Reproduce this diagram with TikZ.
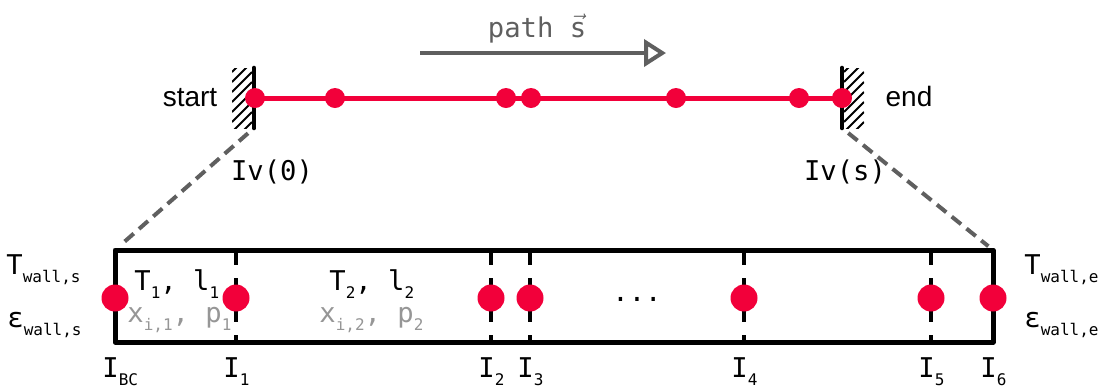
\documentclass[tikz,border=0pt]{standalone}
\usepackage{fontspec}
\newfontfamily\monof{DejaVu Sans Mono}
\newfontfamily\sansf{Liberation Sans}
\usetikzlibrary{arrows.meta}
\definecolor{dotred}{RGB}{242,0,58}
\definecolor{darkgr}{RGB}{95,95,95}
\definecolor{lightgr}{RGB}{150,150,150}
\newcommand{\sbs}[1]{\raisebox{-4pt}{\fontsize{8}{8}\selectfont #1}}

\begin{document}
\begin{tikzpicture}[x=0.5pt,y=-0.5pt] %% one unit = one pixel of the sketch
	\tikzstyle{dot}=[circle,fill=dotred,inner sep=0pt,minimum size=10pt]
	\tikzstyle{bigdot}=[circle,fill=dotred,inner sep=0pt,minimum size=13.5pt]
	\tikzstyle{txt}=[inner sep=0pt,font=\monof\fontsize{13.6}{14}\selectfont]
	\tikzstyle{wall}=[line width=2.3pt,line cap=round]
	\tikzstyle{hatch}=[line width=1pt]
	\tikzstyle{conn}=[darkgr,line width=2pt,dash pattern=on 6pt off 3.5pt]
	\tikzstyle{flow}=[darkgr,line width=2pt,-{Triangle[open,length=11pt,width=13.5pt]}]
	\tikzstyle{boxline}=[line width=2.5pt,line join=round]
	\tikzstyle{sep}=[line width=2.2pt,dash pattern=on 7.5pt off 6.5pt on 22pt off 6.5pt on 20pt]
	\useasboundingbox (0,0) rectangle (1107,387);

	% direction of the path
	\node[txt,darkgr,anchor=base] (pathlbl) at (537,37) {path $\vec{\mbox{s}}$};
	\coordinate (a0) at (420,53);
	\coordinate (a1) at (666,53);
	\draw[flow] (a0) -- (a1);

	% the path between the two walls
	\coordinate (s) at (255,98);
	\coordinate (e) at (842,98);
	\draw[dotred,line width=2.5pt] (s) -- (e);

	\coordinate (swtop) at (254,68);
	\coordinate (swbot) at (254,128);
	\coordinate (ewtop) at (842,68);
	\coordinate (ewbot) at (842,128);
	\begin{scope}
		\clip (232,68) rectangle (252,128);
		\foreach \k in {0,...,8}
			\draw[hatch] (232,72+10*\k) -- ++(20,-20);
	\end{scope}
	\begin{scope}
		\clip (844,68) rectangle (864,128);
		\foreach \k in {0,...,8}
			\draw[hatch] (844,72+10*\k) -- ++(20,-20);
	\end{scope}
	\draw[wall] (swtop) -- (swbot);
	\draw[wall] (ewtop) -- (ewbot);

	\foreach \x [count=\i] in {255,335,506,531,676,799,842}
		\node[dot] (p\i) at (\x,98) {};

	\node[font=\sansf\fontsize{14}{16}\selectfont,inner sep=0pt,anchor=base] (startlbl) at (190,106) {start};
	\node[font=\sansf\fontsize{14}{16}\selectfont,inner sep=0pt,anchor=base] (endlbl) at (909,106) {end};
	\node[txt,anchor=base] (iv0) at (272,180) {Iv(0)};
	\node[txt,anchor=base] (ivs) at (845,180) {Iv(s)};

	% zoomed view of the cells
	\coordinate (tl) at (115,250);
	\coordinate (tr) at (993,250);
	\coordinate (br) at (993,342);
	\draw[conn,shorten <=4pt,shorten >=3pt] (swbot) -- (tl);
	\draw[conn,shorten <=4pt,shorten >=3pt] (ewbot) -- (tr);
	\draw[boxline] (tl) rectangle (br);
	\foreach \x [count=\i] in {236,491,530,744,931} {
		\coordinate (t\i) at (\x,250);
		\coordinate (b\i) at (\x,342);
		\draw[sep] (t\i) -- (b\i);
	}

	\node[txt,anchor=base west] (tws) at (6,274) {T\sbs{wall,s}};
	\node[txt,anchor=base west] (ews) at (7,327) {ε\sbs{wall,s}};
	\node[txt,anchor=base west] (twe) at (1024,274) {T\sbs{wall,e}};
	\node[txt,anchor=base west] (ewe) at (1024,327) {ε\sbs{wall,e}};

	\node[txt,anchor=base west] (c1a) at (134,290) {T\sbs{1}, l\sbs{1}};
	\node[txt,anchor=base west,lightgr] (c1b) at (127,322) {x\sbs{i,1}, p\sbs{1}};
	\node[txt,anchor=base west] (c2a) at (329,290) {T\sbs{2}, l\sbs{2}};
	\node[txt,anchor=base west,lightgr] (c2b) at (319,322) {x\sbs{i,2}, p\sbs{2}};
	\node[txt,anchor=base] (more) at (637,301) {...};

	\foreach \x [count=\i] in {115,236,491,530,744,931,993}
		\node[bigdot] (q\i) at (\x,298) {};

	% interface names
	\node[txt,anchor=base west] (ibc) at (102,377) {I\sbs{BC}};
	\foreach \x [count=\i] in {236,491,530,744,931,993}
		\node[txt,anchor=base west] (i\i) at (\x-13,377) {I\sbs{\i}};
\end{tikzpicture}
\end{document}
